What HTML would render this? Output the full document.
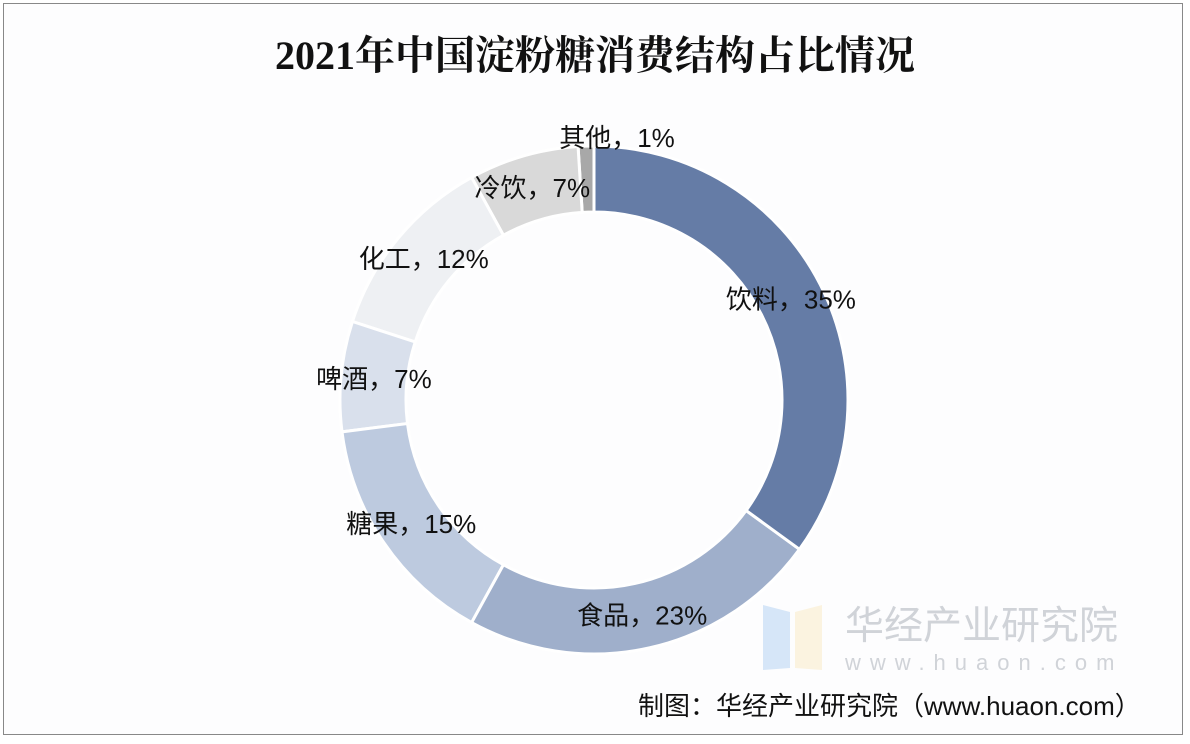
<!DOCTYPE html>
<html><head><meta charset="utf-8">
<style>
body{margin:0;background:#fff;}
#wrap{position:relative;width:1190px;height:744px;overflow:hidden;background:#fff;}
#frame{position:absolute;left:3px;top:3px;width:1180px;height:732px;border:1px solid #888;box-sizing:border-box;background:#fdfdfe;}
#title{position:absolute;left:0;width:1190px;top:24px;text-align:center;font:bold 40px "Liberation Serif","Noto Serif CJK SC",serif;color:#111;}
svg text{font-family:"Liberation Sans","Noto Sans CJK SC",sans-serif;}
</style></head><body>
<div id="wrap">
<div id="frame"></div>
<div id="title">2021年中国淀粉糖消费结构占比情况</div>
<svg id="chart" width="1190" height="744" style="position:absolute;left:0;top:0">
 <g>
  <polygon points="763,605 790,612 790,668 763,670" fill="#d6e6f8"/>
  <polygon points="795,612 822,605 822,670 795,668" fill="#fbf3e0"/>
  <text x="845" y="639" font-size="39" fill="#d0d3d8">华经产业研究院</text>
  <text x="845" y="670" font-size="22" fill="#d0d3d8" letter-spacing="9">www.huaon.com</text>
 </g>
 <text x="638" y="715" font-size="26" fill="#111">制图：华经产业研究院（www.huaon.com）</text>
</svg>
</div>
<script>
const categories=["饮料","食品","糖果","啤酒","化工","冷饮","其他"];
const values=[35,23,15,7,12,7,1];
const colors=["#657ca6","#9fafcb","#bdcadf","#d9e0ec","#eef0f3","#d9d9d9","#a8a8a8"];
const cx=594,cy=400,R=254,r=188;
const svg=document.getElementById('chart');
const NS='http://www.w3.org/2000/svg';
const total=values.reduce((a,b)=>a+b,0);
function pt(a,rad){return [cx+rad*Math.sin(a),cy-rad*Math.cos(a)];}
let acc=0;
values.forEach((v,i)=>{
  const a0=acc/total*2*Math.PI, a1=(acc+v)/total*2*Math.PI;acc+=v;
  const large=(a1-a0)>Math.PI?1:0;
  const p0=pt(a0,R),p1=pt(a1,R),q1=pt(a1,r),q0=pt(a0,r);
  const path=document.createElementNS(NS,'path');
  path.setAttribute('d',`M${p0[0]},${p0[1]} A${R},${R} 0 ${large} 1 ${p1[0]},${p1[1]} L${q1[0]},${q1[1]} A${r},${r} 0 ${large} 0 ${q0[0]},${q0[1]} Z`);
  path.setAttribute('fill',colors[i]);
  path.setAttribute('stroke','#fff');
  path.setAttribute('stroke-width','3');
  
  
  svg.insertBefore(path,svg.firstChild.nextSibling);
  const am=(a0+a1)/2;
  let lp=pt(am,(R+r)/2);
  if(v/total<0.03){lp=[cx+23,cy-262];}
  const t=document.createElementNS(NS,'text');
  t.setAttribute('x',lp[0]);t.setAttribute('y',lp[1]+9);
  t.setAttribute('text-anchor','middle');
  t.setAttribute('font-size','26');
  t.setAttribute('fill','#111');
  t.textContent=categories[i]+'，'+v+'%';
  
  
  svg.appendChild(t);
});
</script>
</body></html>
